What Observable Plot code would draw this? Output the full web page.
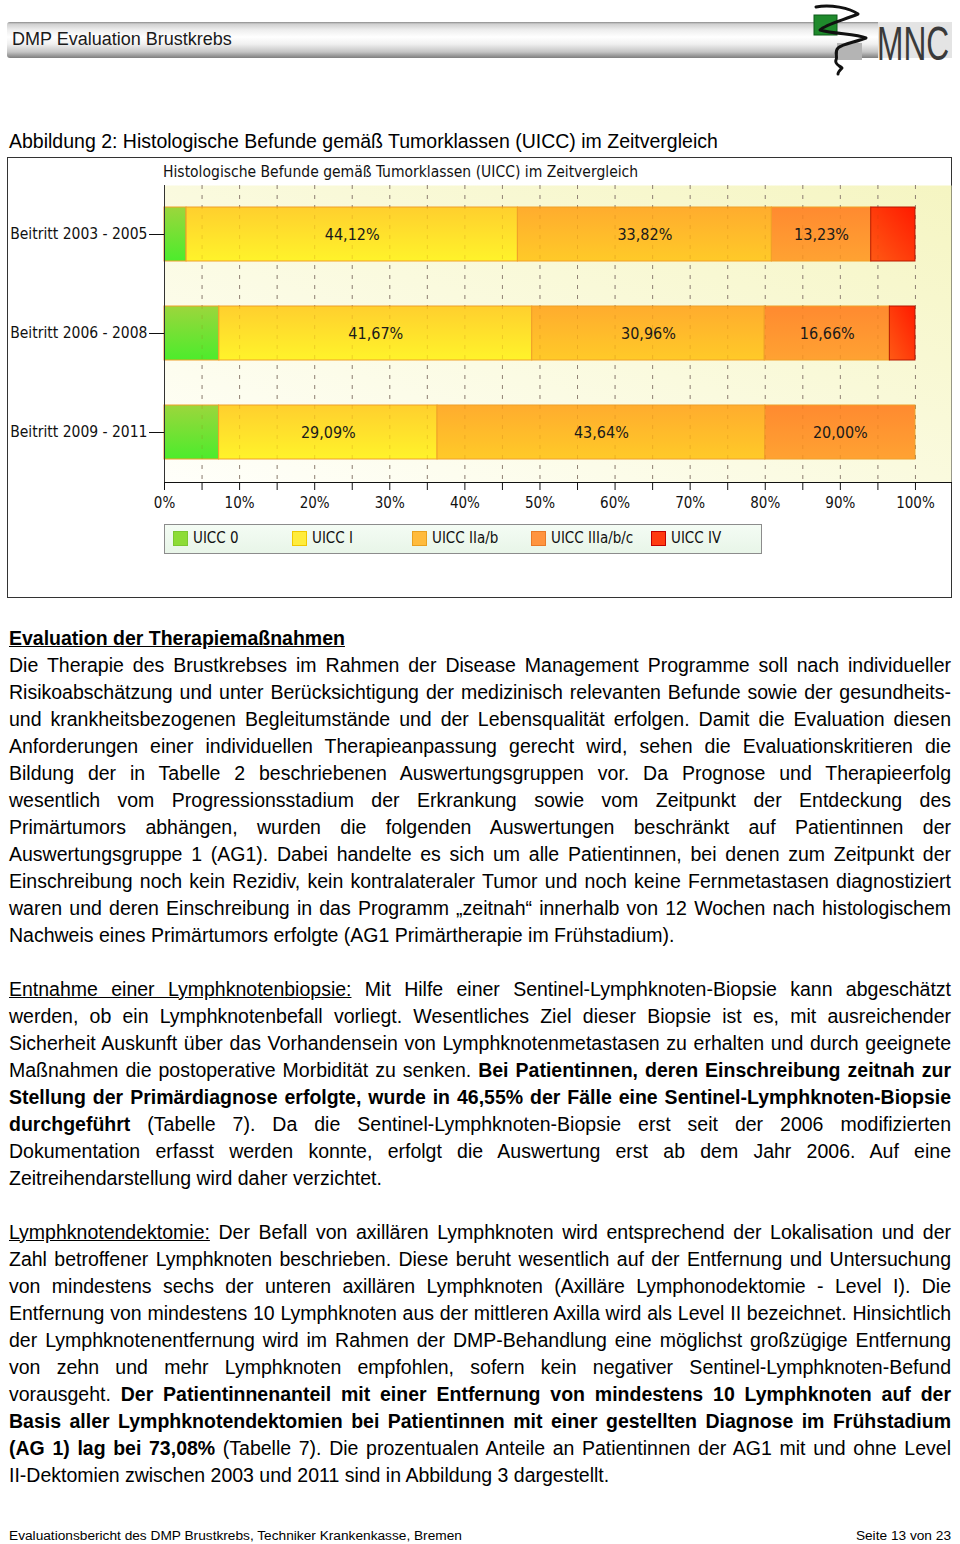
<!DOCTYPE html>
<html><head><meta charset="utf-8">
<script src="https://cdn.jsdelivr.net/npm/d3@7"></script>
<script src="https://cdn.jsdelivr.net/npm/@observablehq/plot@0.6"></script>
<style>
html,body{margin:0;padding:0;background:#fff;}
body{width:960px;height:1544px;position:relative;overflow:hidden;font-family:"Liberation Sans",Arial,sans-serif;color:#000;}
.abs{position:absolute;}
#hdrbar{left:7px;top:22px;width:945px;height:36px;border-radius:3px 0 0 3px;background:linear-gradient(#8a8a8a 0px,#cfcfcf 2px,#eeeeee 8px,#ffffff 15px,#f0f0f0 22px,#c4c4c4 30px,#7e7e7e 36px);}
#hdrtext{left:12px;top:29px;font-size:18px;line-height:20px;color:#1a1a1a;}
#caption{left:9px;top:127.5px;font-size:19.5px;line-height:27px;}
#frame{left:7px;top:157px;width:943px;height:439px;border:1px solid #333;background:#fff;}
#ctitle{left:155px;top:5px;font-family:"DejaVu Sans Condensed","DejaVu Sans",sans-serif;font-size:15.5px;line-height:18px;color:#111;}
#chart{left:0px;top:12px;}
#legend{left:156px;top:366px;width:596px;height:28px;border:1px solid #8c8c8c;background:linear-gradient(#f4fcf4,#e8f5e8);font-family:"DejaVu Sans Condensed","DejaVu Sans",sans-serif;font-size:15px;color:#111;}
.sw{position:absolute;top:6px;width:13px;height:13px;border:1px solid;}
.lt{position:absolute;top:4px;line-height:18px;}
#body{left:9px;top:624.5px;width:942px;font-size:19.5px;line-height:27px;}
.j{text-align:justify;text-align-last:justify;height:27px;}
.l{text-align:left;height:27px;}
.gap{height:27px;}
#foot1{left:9px;top:1527px;font-size:13.7px;line-height:18px;}
#foot2{right:9px;top:1527px;font-size:13.7px;line-height:18px;}
</style></head><body>
<svg width="0" height="0" style="position:absolute">
<defs>
<linearGradient id="bgGrad" x1="0" y1="1" x2="1" y2="0">
<stop offset="0" stop-color="#fffffa"/><stop offset="1" stop-color="#f5f5c2"/></linearGradient>
<linearGradient id="g0" x1="0" y1="0" x2="0" y2="1"><stop offset="0" stop-color="#9cd63c"/><stop offset="1" stop-color="#4cec2c"/></linearGradient>
<linearGradient id="g1" x1="0" y1="0" x2="0" y2="1"><stop offset="0" stop-color="#ffcf2e"/><stop offset="1" stop-color="#fff32a"/></linearGradient>
<linearGradient id="g2" x1="0" y1="0" x2="0" y2="1"><stop offset="0" stop-color="#ffac2e"/><stop offset="1" stop-color="#ffca28"/></linearGradient>
<linearGradient id="g3" x1="0" y1="0" x2="0" y2="1"><stop offset="0" stop-color="#ff8a30"/><stop offset="1" stop-color="#ffa232"/></linearGradient>
<linearGradient id="g4" x1="1" y1="0" x2="0" y2="1"><stop offset="0" stop-color="#ff1a00"/><stop offset="1" stop-color="#ff5a14"/></linearGradient>
</defs></svg>

<div id="hdrbar" class="abs"></div>
<div id="hdrtext" class="abs">DMP Evaluation Brustkrebs</div>
<svg class="abs" style="left:800px;top:0px" width="160" height="80">
<rect x="78" y="22" width="74" height="36" fill="#e4e4e4"/>
<rect x="37" y="43" width="25" height="17" fill="#b4b4b4"/>
<rect x="14" y="15" width="23" height="20" fill="#1f8a2c" stroke="#0d5a18"/>
<path d="M16,7 C30,4 50,8 58,14 C44,20 26,24 20,30 C34,34 56,34 66,38 C56,42 42,44 38,48 C34,52 38,56 36,60 C34,64 40,66 42,68 C40,70 38,72 38,74" fill="none" stroke="#111" stroke-width="3" stroke-linejoin="round" stroke-linecap="round"/>
<text x="77" y="60" font-family="Liberation Sans" font-size="48" fill="#3a3a3a" transform="translate(77,0) scale(0.66,1) translate(-77,0)">MNC</text>
</svg>

<div id="caption" class="abs">Abbildung 2: Histologische Befunde gemäß Tumorklassen (UICC) im Zeitvergleich</div>

<div id="frame" class="abs">
  <div id="ctitle" class="abs">Histologische Befunde gemäß Tumorklassen (UICC) im Zeitvergleich</div>
  <div id="chart" class="abs"></div>
  <div id="legend" class="abs"></div>
</div>

<div id="body" class="abs">
<div class="l"><b><u>Evaluation der Therapiemaßnahmen</u></b></div>
<div class="j">Die Therapie des Brustkrebses im Rahmen der Disease Management Programme soll nach individueller</div>
<div class="j">Risikoabschätzung und unter Berücksichtigung der medizinisch relevanten Befunde sowie der gesundheits-</div>
<div class="j">und krankheitsbezogenen Begleitumstände und der Lebensqualität erfolgen. Damit die Evaluation diesen</div>
<div class="j">Anforderungen einer individuellen Therapieanpassung gerecht wird, sehen die Evaluationskritieren die</div>
<div class="j">Bildung der in Tabelle 2 beschriebenen Auswertungsgruppen vor. Da Prognose und Therapieerfolg</div>
<div class="j">wesentlich vom Progressionsstadium der Erkrankung sowie vom Zeitpunkt der Entdeckung des</div>
<div class="j">Primärtumors abhängen, wurden die folgenden Auswertungen beschränkt auf Patientinnen der</div>
<div class="j">Auswertungsgruppe 1 (AG1). Dabei handelte es sich um alle Patientinnen, bei denen zum Zeitpunkt der</div>
<div class="j">Einschreibung noch kein Rezidiv, kein kontralateraler Tumor und noch keine Fernmetastasen diagnostiziert</div>
<div class="j">waren und deren Einschreibung in das Programm „zeitnah“ innerhalb von 12 Wochen nach histologischem</div>
<div class="l">Nachweis eines Primärtumors erfolgte (AG1 Primärtherapie im Frühstadium).</div>
<div class="gap"></div>
<div class="j"><u>Entnahme einer Lymphknotenbiopsie:</u> Mit Hilfe einer Sentinel-Lymphknoten-Biopsie kann abgeschätzt</div>
<div class="j">werden, ob ein Lymphknotenbefall vorliegt. Wesentliches Ziel dieser Biopsie ist es, mit ausreichender</div>
<div class="j">Sicherheit Auskunft über das Vorhandensein von Lymphknotenmetastasen zu erhalten und durch geeignete</div>
<div class="j">Maßnahmen die postoperative Morbidität zu senken. <b>Bei Patientinnen, deren Einschreibung zeitnah zur</b></div>
<div class="j"><b>Stellung der Primärdiagnose erfolgte, wurde in 46,55% der Fälle eine Sentinel-Lymphknoten-Biopsie</b></div>
<div class="j"><b>durchgeführt</b> (Tabelle 7). Da die Sentinel-Lymphknoten-Biopsie erst seit der 2006 modifizierten</div>
<div class="j">Dokumentation erfasst werden konnte, erfolgt die Auswertung erst ab dem Jahr 2006. Auf eine</div>
<div class="l">Zeitreihendarstellung wird daher verzichtet.</div>
<div class="gap"></div>
<div class="j"><u>Lymphknotendektomie:</u> Der Befall von axillären Lymphknoten wird entsprechend der Lokalisation und der</div>
<div class="j">Zahl betroffener Lymphknoten beschrieben. Diese beruht wesentlich auf der Entfernung und Untersuchung</div>
<div class="j">von mindestens sechs der unteren axillären Lymphknoten (Axilläre Lymphonodektomie - Level I). Die</div>
<div class="j">Entfernung von mindestens 10 Lymphknoten aus der mittleren Axilla wird als Level II bezeichnet. Hinsichtlich</div>
<div class="j">der Lymphknotenentfernung wird im Rahmen der DMP-Behandlung eine möglichst großzügige Entfernung</div>
<div class="j">von zehn und mehr Lymphknoten empfohlen, sofern kein negativer Sentinel-Lymphknoten-Befund</div>
<div class="j">vorausgeht. <b>Der Patientinnenanteil mit einer Entfernung von mindestens 10 Lymphknoten auf der</b></div>
<div class="j"><b>Basis aller Lymphknotendektomien bei Patientinnen mit einer gestellten Diagnose im Frühstadium</b></div>
<div class="j"><b>(AG 1) lag bei 73,08%</b> (Tabelle 7). Die prozentualen Anteile an Patientinnen der AG1 mit und ohne Level</div>
<div class="l">II-Dektomien zwischen 2003 und 2011 sind in Abbildung 3 dargestellt.</div>
</div>

<div id="foot1" class="abs">Evaluationsbericht des DMP Brustkrebs, Techniker Krankenkasse, Bremen</div>
<div id="foot2" class="abs">Seite 13 von 23</div>

<script>
// ---- data ----
const groups = ["Beitritt 2003 - 2005", "Beitritt 2006 - 2008", "Beitritt 2009 - 2011"];
const classes = ["UICC 0", "UICC I", "UICC IIa/b", "UICC IIIa/b/c", "UICC IV"];
const uicc0   = [2.94, 7.30, 7.27];
const uicc1   = [44.12, 41.67, 29.09];
const uicc2   = [33.82, 30.96, 43.64];
const uicc3   = [13.23, 16.66, 20.00];
const uicc4   = [5.89, 3.41, 0.00];
const labelledClasses = ["UICC I", "UICC IIa/b", "UICC IIIa/b/c"];
const gridTicks = [0, 5, 10, 15, 20, 25, 30, 35, 40, 45, 50, 55, 60, 65, 70, 75, 80, 85, 90, 95, 100];
const labelTicks = [0, 10, 20, 30, 40, 50, 60, 70, 80, 90, 100];
const tickLabels = ["0%", "10%", "20%", "30%", "40%", "50%", "60%", "70%", "80%", "90%", "100%"];

// ---- styles ----
const series = [uicc0, uicc1, uicc2, uicc3, uicc4];
const gradIds = ["url(#g0)", "url(#g1)", "url(#g2)", "url(#g3)", "url(#g4)"];
const swatchFill = ["#8ddc36", "#ffec3c", "#ffbb3c", "#ff943e", "#ff3a10"];
const swatchStroke = ["#7cc830", "#f0c800", "#e8a020", "#e87a28", "#c00000"];
const fmt = v => v.toFixed(2).replace(".", ",") + "%";

const data = groups.flatMap((g, i) => classes.map((c, j) => ({
  group: g, cls: c, value: series[j][i],
  label: labelledClasses.includes(c) ? fmt(series[j][i]) : null
})));

const chart = Plot.plot({
  width: 943, height: 346,
  marginLeft: 156, marginRight: 0, marginTop: 15, marginBottom: 34,
  style: {fontFamily: "'DejaVu Sans Condensed','DejaVu Sans',sans-serif", fontSize: "15px", color: "#111", background: "transparent", overflow: "visible"},
  x: {domain: [0, 104.8], axis: null, label: null},
  y: {domain: groups, paddingInner: 0.453, paddingOuter: 0.2265, axis: null, label: null},
  color: {domain: classes, range: gradIds},
  marks: [
    Plot.frame({fill: "url(#bgGrad)", stroke: null}),
    Plot.ruleX(gridTicks, {stroke: "#909090", strokeDasharray: "4,6"}),
    Plot.barX(data, Plot.stackX({filter: d => d.value > 0, x: "value", y: "group", fill: "cls", stroke: "#f0a028", strokeWidth: 1})),
    Plot.ruleX(gridTicks, {stroke: "#a05000", strokeOpacity: 0.18, strokeDasharray: "4,6"}),
    Plot.text(data, Plot.stackX({x: "value", y: "group", text: "label", fontSize: 16, fill: "#1a1a1a"})),
    Plot.axisY({tickSize: 15, tickPadding: 2, fontSize: 15.5, stroke: "#111", label: null}),
    Plot.axisX({ticks: gridTicks, tickSize: 8, tickFormat: () => "", stroke: "#111", label: null}),
    Plot.axisX({ticks: labelTicks, tickSize: 0, tickPadding: 15, tickFormat: d => tickLabels[labelTicks.indexOf(d)], fontSize: 15, label: null}),
    Plot.frame({anchor: "bottom", stroke: "#111"}),
    Plot.ruleX([0], {stroke: "#333"})
  ]
});
d3.select(chart).selectAll("rect").filter(function() { return this.getAttribute("fill") === "url(#g4)"; }).attr("stroke", "#b81800");
document.getElementById("chart").appendChild(chart);

// legend (HTML)
const legend = document.getElementById("legend");
const legX = [8, 127, 247, 366, 486];
classes.forEach((c, i) => {
  const s = document.createElement("div");
  s.className = "sw";
  s.style.left = legX[i] + "px";
  s.style.background = swatchFill[i];
  s.style.borderColor = swatchStroke[i];
  legend.appendChild(s);
  const t = document.createElement("div");
  t.className = "lt";
  t.style.left = (legX[i] + 20) + "px";
  t.textContent = c;
  legend.appendChild(t);
});
</script>
</body></html>
